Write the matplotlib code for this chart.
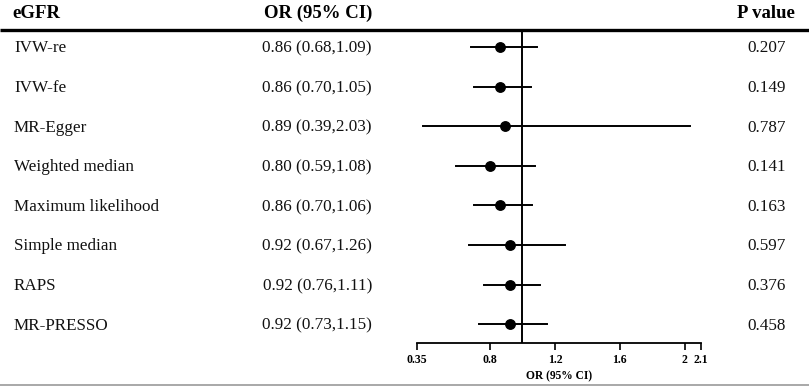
import matplotlib
matplotlib.use("Agg")
import matplotlib.pyplot as plt

# Mendelian randomisation results for eGFR
methods = ["IVW-re", "IVW-fe", "MR-Egger", "Weighted median",
           "Maximum likelihood", "Simple median", "RAPS", "MR-PRESSO"]
or_est = [0.86, 0.86, 0.89, 0.80, 0.86, 0.92, 0.92, 0.92]
ci_low = [0.68, 0.70, 0.39, 0.59, 0.70, 0.67, 0.76, 0.73]
ci_high = [1.09, 1.05, 2.03, 1.08, 1.06, 1.26, 1.11, 1.15]
p_values = ["0.207", "0.149", "0.787", "0.141", "0.163", "0.597", "0.376", "0.458"]
x_ticks = [0.35, 0.8, 1.2, 1.6, 2, 2.1]
x_tick_labels = ["0.35", "0.8", "1.2", "1.6", "2", "2.1"]

W, H = 809, 387
plt.rcParams["font.family"] = ["Liberation Serif", "DejaVu Serif"]

fig = plt.figure(figsize=(W / 100, H / 100), dpi=100)

# background axes in pixel coordinates for the table part
bg = fig.add_axes([0, 0, 1, 1])
bg.set_xlim(0, W)
bg.set_ylim(H, 0)
bg.axis("off")

row_y0, row_step = 47, 39.6
top_line, axis_line = 30, 343

bg.text(12, 18, "eGFR", fontsize=13.5, fontweight="bold", va="baseline", ha="left")
bg.text(372, 18, "OR (95% CI)", fontsize=13.5, fontweight="bold", va="baseline", ha="right")
bg.text(795, 18, "P value", fontsize=13.5, fontweight="bold", va="baseline", ha="right")
bg.plot([0, W], [top_line, top_line], color="black", lw=2.4, solid_capstyle="butt")
bg.plot([0, W], [385, 385], color="#999999", lw=1.2, solid_capstyle="butt")

for i, name in enumerate(methods):
    y = row_y0 + row_step * i + 5.5
    bg.text(14, y, name, fontsize=12.3, va="baseline", ha="left", color="#111111")
    bg.text(372, y, f"{or_est[i]:.2f} ({ci_low[i]:.2f},{ci_high[i]:.2f})",
            fontsize=12.3, va="baseline", ha="right", color="#111111")
    bg.text(786, y, p_values[i], fontsize=12.3, va="baseline", ha="right", color="#111111")

# forest axes: 0.35 -> 417 px, 2.1 -> 701 px
x0, x1 = 417, 701
ax = fig.add_axes([x0 / W, 1 - axis_line / H, (x1 - x0) / W, (axis_line - top_line) / H])
ax.patch.set_alpha(0)
ax.set_xlim(0.35, 2.1)
ax.set_ylim((axis_line - row_y0) / row_step, (top_line - row_y0) / row_step)

for i in range(len(methods)):
    ax.plot([ci_low[i], ci_high[i]], [i, i], color="black", lw=1.4)
    ax.plot(or_est[i], i, "o", color="black", markersize=6.8)

ax.axvline(1, color="black", lw=1.4)

for s in ["top", "left", "right"]:
    ax.spines[s].set_visible(False)
ax.spines["bottom"].set_linewidth(1.3)
ax.set_yticks([])
ax.set_xticks(x_ticks)
ax.set_xticklabels(x_tick_labels, fontsize=8.5, fontweight="bold")
ax.tick_params(axis="x", length=5, width=1.2, pad=3)
ax.set_xlabel("OR (95% CI)", fontsize=8.3, fontweight="bold", labelpad=3)

fig.savefig("out.png", dpi=100)
